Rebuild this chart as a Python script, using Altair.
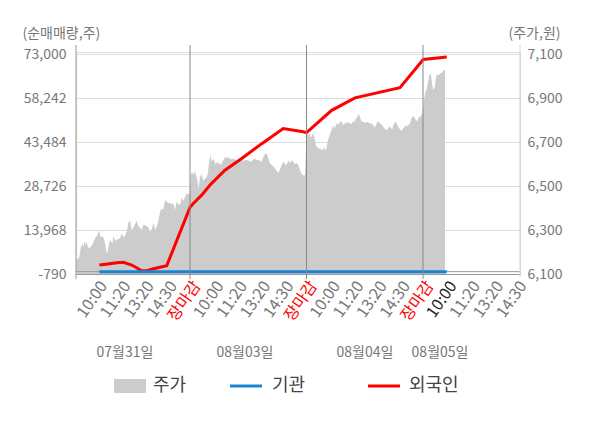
import json
import altair as alt
import pandas as pd

FONT = "Noto Sans CJK KR"

# ---- x axis (tick slots: 1 = first 10:00 label, 5 = first 장마감, ...)
tick_labels = ["10:00", "11:20", "13:20", "14:30", "장마감"] * 3 + ["10:00", "11:20", "13:20", "14:30"]
close_pos = [5, 10, 15]
date_labels = ["07월31일", "08월03일", "08월04일", "08월05일"]
date_pos = [2.21, 7.36, 12.51, 15.73]

# ---- 주가 (price, right axis)
price_t_d1 = [0.107, 0.165, 0.25, 0.322, 0.379, 0.422, 0.465, 0.522, 0.565, 0.608,
              0.665, 0.737, 0.808, 0.880, 0.952, 1.023, 1.095, 1.166, 1.238, 1.309,
              1.381, 1.424, 1.467, 1.538, 1.595, 1.667, 1.710, 1.781, 1.853, 1.924,
              1.996, 2.067, 2.139, 2.211, 2.282, 2.354, 2.425, 2.497, 2.568, 2.640,
              2.711, 2.783, 2.854, 2.926, 2.997, 3.069, 3.140, 3.212, 3.283, 3.355,
              3.427, 3.498, 3.570, 3.641, 3.713, 3.784, 3.856, 3.927, 3.999, 4.070,
              4.142, 4.213, 4.285, 4.356, 4.428, 4.499, 4.571, 4.643, 4.714, 4.786,
              4.857, 4.929, 4.986]
price_v_d1 = [6164, 6167, 6179, 6224, 6236, 6224, 6247, 6232, 6247, 6224,
              6217, 6224, 6232, 6252, 6267, 6277, 6297, 6267, 6273, 6258,
              6224, 6194, 6202, 6247, 6252, 6239, 6273, 6255, 6252, 6262,
              6262, 6285, 6267, 6273, 6292, 6333, 6342, 6300, 6312, 6327,
              6342, 6318, 6312, 6300, 6323, 6323, 6318, 6312, 6292, 6300,
              6333, 6303, 6315, 6342, 6383, 6398, 6394, 6436, 6429, 6421,
              6424, 6418, 6421, 6391, 6429, 6418, 6414, 6448, 6433, 6451,
              6467, 6464, 6464]
price_t_d2 = [5.043, 5.10, 5.157, 5.214, 5.271, 5.329, 5.357, 5.414, 5.472, 5.529,
              5.586, 5.643, 5.701, 5.758, 5.815, 5.872, 5.929, 5.987, 6.044, 6.101,
              6.158, 6.216, 6.273, 6.330, 6.387, 6.444, 6.502, 6.573, 6.645, 6.716,
              6.788, 6.859, 6.931, 7.002, 7.074, 7.146, 7.217, 7.289, 7.360, 7.432,
              7.503, 7.575, 7.646, 7.718, 7.789, 7.861, 7.932, 8.004, 8.075, 8.147,
              8.218, 8.290, 8.362, 8.433, 8.505, 8.576, 8.648, 8.719, 8.791, 8.862,
              8.934, 9.005, 9.077, 9.148, 9.220, 9.291, 9.363, 9.434, 9.506, 9.577,
              9.649, 9.721, 9.792, 9.864, 9.935]
price_v_d2 = [6555, 6565, 6550, 6570, 6545, 6520, 6485, 6527, 6558, 6542,
              6524, 6535, 6539, 6555, 6603, 6646, 6611, 6626, 6615, 6600,
              6611, 6603, 6603, 6596, 6611, 6621, 6630, 6630, 6630, 6626,
              6621, 6626, 6621, 6618, 6626, 6611, 6621, 6614, 6621, 6618,
              6618, 6611, 6615, 6621, 6626, 6618, 6621, 6615, 6611, 6633,
              6646, 6649, 6626, 6603, 6596, 6591, 6580, 6570, 6561, 6576,
              6596, 6611, 6600, 6596, 6618, 6606, 6618, 6611, 6600, 6606,
              6596, 6573, 6555, 6550, 6550]
price_t_d3 = [10.007, 10.064, 10.122, 10.179, 10.236, 10.293, 10.350, 10.408, 10.465, 10.522,
              10.579, 10.637, 10.694, 10.751, 10.808, 10.866, 10.923, 10.980, 11.037, 11.094,
              11.152, 11.209, 11.266, 11.323, 11.381, 11.438, 11.495, 11.552, 11.609, 11.667,
              11.724, 11.781, 11.838, 11.896, 11.953, 12.010, 12.067, 12.124, 12.182, 12.239,
              12.296, 12.353, 12.411, 12.468, 12.525, 12.582, 12.639, 12.697, 12.754, 12.811,
              12.868, 12.926, 12.983, 13.040, 13.097, 13.155, 13.212, 13.269, 13.326, 13.383,
              13.441, 13.498, 13.555, 13.612, 13.670, 13.727, 13.784, 13.841, 13.899, 13.956,
              14.013, 14.070, 14.127, 14.185, 14.242, 14.299, 14.356, 14.414, 14.471, 14.528,
              14.585, 14.642, 14.700, 14.757, 14.814, 14.871, 14.929, 14.986]
price_v_d3 = [6742, 6732, 6739, 6721, 6732, 6739, 6717, 6686, 6676, 6671,
              6671, 6667, 6664, 6679, 6661, 6679, 6709, 6727, 6747, 6762,
              6777, 6762, 6782, 6788, 6777, 6797, 6792, 6785, 6777, 6792,
              6785, 6792, 6788, 6782, 6788, 6797, 6792, 6808, 6815, 6830,
              6815, 6797, 6792, 6792, 6788, 6792, 6792, 6785, 6788, 6782,
              6777, 6767, 6777, 6797, 6792, 6785, 6782, 6773, 6767, 6758,
              6755, 6762, 6773, 6767, 6758, 6777, 6788, 6792, 6777, 6767,
              6758, 6752, 6758, 6767, 6777, 6770, 6782, 6777, 6797, 6815,
              6818, 6812, 6800, 6797, 6815, 6815, 6823, 6833]
price_t_d4 = [15.043, 15.100, 15.157, 15.215, 15.272, 15.329, 15.386, 15.443, 15.501,
              15.558, 15.615, 15.672, 15.729, 15.787, 15.844, 15.901, 15.944]
price_v_d4 = [6891, 6929, 6939, 6974, 7005, 7015, 6967, 6936, 6952,
              6997, 7009, 7005, 7012, 7015, 7020, 7030, 7027]

# ---- 외국인 / 기관 net volume (left axis)
frg_t = [1.11, 1.47, 1.86, 2.14, 2.5, 2.93, 3.15, 3.43, 4.0, 5.0, 5.14, 5.5, 5.86, 6.5,
         7.22, 8.08, 9.0, 9.86, 10.0, 11.08, 12.08, 14.01, 15.01, 16.02]
frg_v = [2230, 2560, 3010, 3120, 2230, 300, 300, 1000, 2000, 21600, 22900, 25700, 29100, 34100,
         38000, 43000, 48100, 47000, 46700, 54200, 58400, 61800, 71300, 72100]
inst_t = [1.11, 16.02]
inst_v = [0, 0]

vol_ticks = [-790, 13968, 28726, 43484, 58242, 73000]
price_ticks = [6100, 6300, 6500, 6700, 6900, 7100]
legend_labels = ["주가", "기관", "외국인"]

GRAY, BLUE, RED = "#cccccc", "#1a84d4", "#ff0000"
LABEL = "#777777"

price_df = pd.DataFrame({
    "t": price_t_d1 + price_t_d2 + price_t_d3 + price_t_d4,
    "v": price_v_d1 + price_v_d2 + price_v_d3 + price_v_d4,
})
frg_df = pd.DataFrame({"t": frg_t, "v": frg_v})
inst_df = pd.DataFrame({"t": inst_t, "v": inst_v})

W, H = 444, 222

xscale = alt.Scale(domain=[0.107, 19.163], nice=False, zero=False)
label_arr = json.dumps(tick_labels, ensure_ascii=False)
xaxis = alt.Axis(
    values=list(range(1, len(tick_labels) + 1)),
    labelExpr=f"{label_arr}[datum.value - 1]",
    labelAngle=-55, labelAlign="right", labelBaseline="top",
    labelFontSize=16, labelPadding=4,
    labelColor={"condition": [{"test": "datum.value % 5 == 0", "value": RED},
                              {"test": "datum.value == 16", "value": "#222222"}],
                "value": LABEL},
    ticks=False, grid=False, domain=True, domainColor="#999999", title=None,
    labelOverlap=False, labelFont=FONT, labelBound=False,
)
X = alt.X("t:Q", scale=xscale, axis=xaxis)

num_expr = "datum.value < 0 ? '-' + format(-datum.value, ',') : format(datum.value, ',')"

vol_scale = alt.Scale(domain=[-790, 73800], nice=False, zero=False)
vol_axis = alt.Axis(
    orient="left", values=vol_ticks, labelExpr=num_expr, grid=True, gridColor="#dcdcdc",
    ticks=False, domain=False, labelPadding=10, labelFontSize=14, labelColor=LABEL,
    labelFont=FONT, title="(순매매량,주)", titleAngle=0, titleX=-54, titleY=-19,
    titleAlign="left", titleBaseline="middle", titleFontWeight="normal",
    titleFontSize=14, titleColor=LABEL, titleFont=FONT,
)
price_scale = alt.Scale(domain=[6100, 7111], nice=False, zero=False)
price_axis = alt.Axis(
    orient="right", values=price_ticks, labelExpr=num_expr, grid=False, ticks=False,
    domain=False, labelPadding=7, labelFontSize=14, labelColor=LABEL, labelFont=FONT,
    title="(주가,원)", titleAngle=0, titleX=40, titleY=-19, titleAlign="right",
    titleBaseline="middle", titleFontWeight="normal", titleFontSize=14,
    titleColor=LABEL, titleFont=FONT,
)

area = alt.Chart(price_df).mark_area(color=GRAY, opacity=1, interpolate="linear").encode(
    x=X,
    y=alt.Y("v:Q", scale=price_scale, axis=price_axis),
    y2=alt.datum(6100),
)

zero_rule = alt.Chart(pd.DataFrame({"v": [0]})).mark_rule(color="#999999", strokeWidth=1).encode(
    y=alt.Y("v:Q", scale=vol_scale, axis=vol_axis)
)
frg_line = alt.Chart(frg_df).mark_line(color=RED, strokeWidth=3).encode(
    x=X, y=alt.Y("v:Q", scale=vol_scale, axis=vol_axis)
)
inst_line = alt.Chart(inst_df).mark_line(color=BLUE, strokeWidth=3).encode(
    x=X, y=alt.Y("v:Q", scale=vol_scale, axis=vol_axis)
)
volume = alt.layer(zero_rule, frg_line, inst_line)

one = pd.DataFrame({"a": [0]})
day_rules = alt.Chart(pd.DataFrame({"t": close_pos})).mark_rule(color="#888888", strokeWidth=1).encode(
    x=X, y=alt.value(-7), y2=alt.value(H + 5)
)
left_line = alt.Chart(one).mark_rule(color="#999999", strokeWidth=1).encode(
    x=alt.value(0), y=alt.value(-7), y2=alt.value(H + 5)
)
right_line = alt.Chart(one).mark_rule(color="#d0d0d0", strokeWidth=1).encode(
    x=alt.value(W), y=alt.value(-7), y2=alt.value(H + 3)
)

date_text = alt.Chart(pd.DataFrame({"t": date_pos, "label": date_labels})).mark_text(
    font=FONT, fontSize=14, color=LABEL, baseline="middle", align="center"
).encode(x=X, y=alt.value(301), text="label:N")

LY = 334
leg_rect = alt.Chart(one).mark_rect(color=GRAY).encode(
    x=alt.value(38), x2=alt.value(70), y=alt.value(LY - 7), y2=alt.value(LY + 7))
leg_blue = alt.Chart(one).mark_rule(color=BLUE, strokeWidth=3).encode(
    x=alt.value(154), x2=alt.value(186), y=alt.value(LY))
leg_red = alt.Chart(one).mark_rule(color=RED, strokeWidth=3).encode(
    x=alt.value(292), x2=alt.value(324), y=alt.value(LY))
leg_texts = []
for lab, lx in zip(legend_labels, [77, 196, 333]):
    leg_texts.append(
        alt.Chart(one).mark_text(font=FONT, fontSize=18, color="#444444", align="left",
                                 baseline="middle").encode(
            x=alt.value(lx), y=alt.value(LY), text=alt.value(lab))
    )

chart = alt.layer(
    area, volume, day_rules, left_line, right_line, date_text,
    leg_rect, leg_blue, leg_red, *leg_texts
).resolve_scale(y="independent").properties(
    width=W, height=H,
    autosize=alt.AutoSizeParams(type="none"),
    padding={"left": 68, "top": 44, "right": 72, "bottom": 146},
).configure_view(fill="#f4f4f4", stroke=None).configure(font=FONT)

chart.save("out.html", embed_options={"renderer": "svg", "actions": False})
